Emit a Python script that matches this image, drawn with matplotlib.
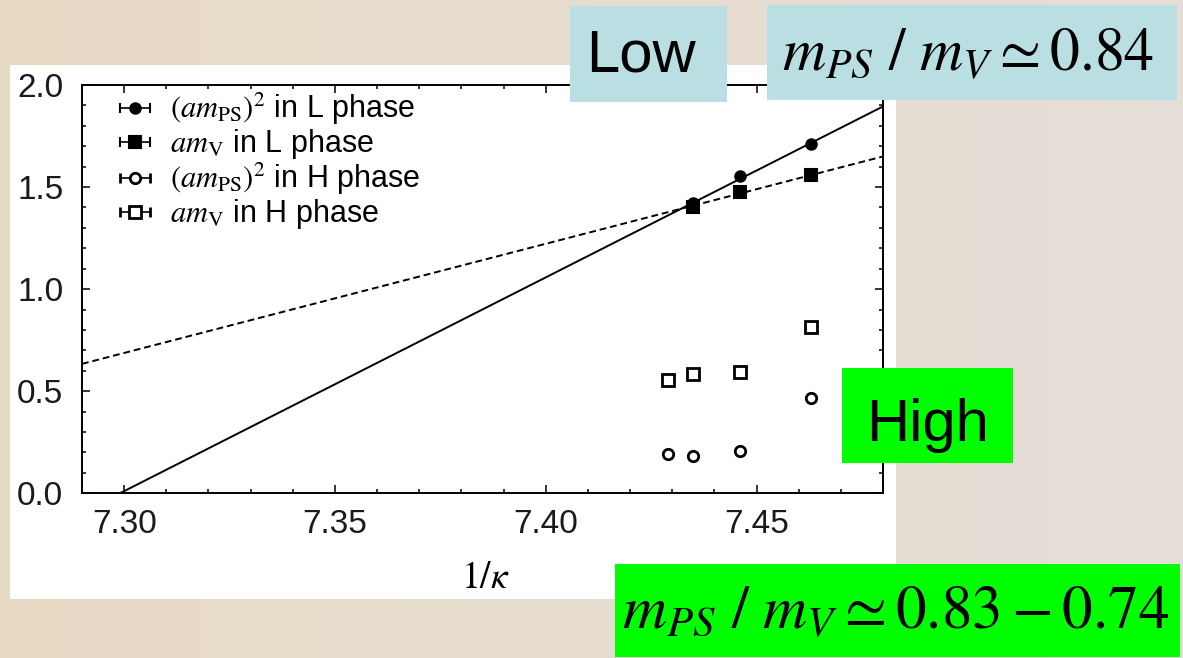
import numpy as np
import matplotlib
matplotlib.use("Agg")
import matplotlib.pyplot as plt
from matplotlib.patches import Rectangle
from matplotlib.ticker import MultipleLocator, FormatStrFormatter

# ---------------- data ----------------
x_L = [7.435, 7.446, 7.463]
ps2_L = [1.420, 1.555, 1.711]
mv_L = [1.402, 1.478, 1.557]

x_H = [7.429, 7.435, 7.446, 7.463]
ps2_H = [0.191, 0.183, 0.207, 0.466]
mv_H = [0.555, 0.583, 0.593, 0.817]

fit_x = [7.290, 7.480]
fit_ps2_L = [-0.094, 1.895]
fit_mv_L = [0.634, 1.650]

labels = [r'$(am_{\mathrm{PS}})^2$ in L phase',
          r'$am_{\mathrm{V}}$ in L phase',
          r'$(am_{\mathrm{PS}})^2$ in H phase',
          r'$am_{\mathrm{V}}$ in H phase']

x_range = [7.290, 7.480]
y_range = [0.0, 2.0]

# ---------------- styling ----------------
plt.rcParams['font.family'] = ['Liberation Sans', 'DejaVu Sans']
plt.rcParams['mathtext.fontset'] = 'stix'

W, H = 1183, 658
fig = plt.figure(figsize=(W / 100, H / 100), dpi=100)

def fx(px):
    return px / W

def fy(py):
    return 1 - py / H

# background gradient (paper texture stand-in)
bg = fig.add_axes([0, 0, 1, 1], zorder=-10)
grad = np.linspace(0, 1, 256)
c1 = np.array([232, 219, 198]) / 255.0
c2 = np.array([229, 222, 216]) / 255.0
img = (c1[None, :] * (1 - grad[:, None]) + c2[None, :] * grad[:, None])[None, :, :]
bg.imshow(img, aspect='auto', extent=[0, 1, 0, 1])
bg.set_axis_off()

# white panel behind the plot
fig.add_artist(Rectangle((fx(10), fy(599)), fx(896) - fx(10), fy(65) - fy(599),
                         transform=fig.transFigure, facecolor='white',
                         edgecolor='none', zorder=-1))

ax_l, ax_r, ax_t, ax_b = 82, 883, 85, 493.3
ax = fig.add_axes([fx(ax_l), fy(ax_b), fx(ax_r) - fx(ax_l), fy(ax_t) - fy(ax_b)], zorder=0)
ax.set_facecolor('white')

# fit lines
ax.plot(fit_x, fit_ps2_L, color='black', lw=1.4, ls='-', zorder=2)
ax.plot(fit_x, fit_mv_L, color='black', lw=1.4, ls=(0, (3.5, 2.0)), zorder=2)

common = dict(ecolor='black', elinewidth=1.2, capsize=3.5, capthick=1.2,
              color='black', mec='black', ls='none')
h1 = ax.errorbar(x_L, ps2_L, xerr=np.zeros(len(x_L)), fmt='o', ms=7.5, mew=1.5,
                 mfc='black', zorder=3, **common)
h2 = ax.errorbar(x_L, mv_L, xerr=np.zeros(len(x_L)), fmt='s', ms=8.5, mew=1.5,
                 mfc='black', zorder=4, **common)
h3 = ax.errorbar(x_H, ps2_H, xerr=np.zeros(len(x_H)), fmt='o', ms=7.5, mew=2.0,
                 mfc='white', zorder=3, **common)
h4 = ax.errorbar(x_H, mv_H, xerr=np.zeros(len(x_H)), fmt='s', ms=8, mew=2.0,
                 mfc='white', zorder=3, **common)

ax.set_xlim(*x_range)
ax.set_ylim(*y_range)
ax.xaxis.set_major_locator(MultipleLocator(0.05))
ax.xaxis.set_minor_locator(MultipleLocator(0.01))
ax.yaxis.set_major_locator(MultipleLocator(0.5))
ax.yaxis.set_minor_locator(MultipleLocator(0.1))
ax.xaxis.set_major_formatter(FormatStrFormatter('%.2f'))
ax.yaxis.set_major_formatter(FormatStrFormatter('%.1f'))
ax.tick_params(which='both', direction='in', top=True, right=True, width=1.1,
               color='black')
ax.tick_params(which='major', length=6)
ax.tick_params(which='minor', length=3)
ax.tick_params(axis='x', which='major', labelsize=24, pad=11, labelcolor='#1a1a1a')
ax.tick_params(axis='y', which='major', labelsize=24, pad=13.5, labelcolor='#1a1a1a')
for s in ax.spines.values():
    s.set_linewidth(1.4)
    s.set_color('black')

ax.set_xlabel(r'$1/\kappa$', fontsize=27, va='center')
ax.xaxis.set_label_coords((485 - ax_l) / (ax_r - ax_l), (ax_b - 578) / (ax_b - ax_t))

leg = ax.legend([h1, h2, h3, h4], labels, loc='upper left',
                bbox_to_anchor=(fx(120), fy(91)), bbox_transform=fig.transFigure,
                frameon=False, fontsize=22, handlelength=0.97, handletextpad=0.66,
                labelspacing=0.0, borderpad=0, borderaxespad=0, numpoints=1)

# annotation boxes
def box(x0, y0, x1, y1, color):
    fig.add_artist(Rectangle((fx(x0), fy(y1)), fx(x1) - fx(x0), fy(y0) - fy(y1),
                             transform=fig.transFigure, facecolor=color,
                             edgecolor='none', zorder=5))

blue = '#B9DFE2'
green = '#00FF00'
box(570, 6, 727, 102, blue)
box(767, 5, 1177, 100, blue)
box(842, 368, 1013, 463, green)
box(615, 564, 1180, 657, green)

fig.text(fx(641), fy(72), 'Low', fontsize=43, ha='center', va='baseline',
         color='black', zorder=6)
fig.text(fx(928), fy(441), 'High', fontsize=43, ha='center', va='baseline',
         color='black', zorder=6)
fig.text(fx(968), fy(70), r'$m_{PS}\ /\ m_V \simeq 0.84$', fontsize=43,
         ha='center', va='baseline', color='black', zorder=6)
fig.text(fx(896), fy(628), r'$m_{PS}\ /\ m_V \simeq 0.83-0.74$', fontsize=44,
         ha='center', va='baseline', color='black', zorder=6)

fig.savefig('out.png', dpi=100)
